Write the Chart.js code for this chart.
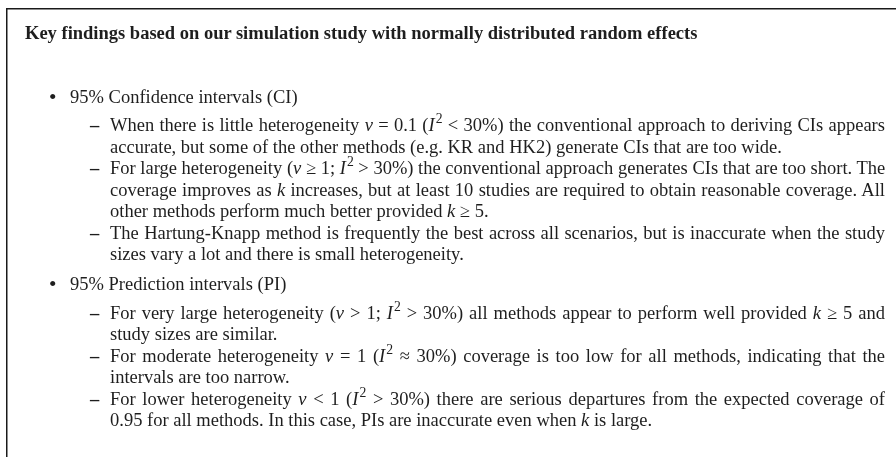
<!DOCTYPE html>
<html lang="en">
<head>
  <meta charset="UTF-8">
  <title>Key findings</title>
  <script src="https://cdn.jsdelivr.net/npm/chart.js"></script>
  <style>
    * {
      box-sizing: border-box;
      margin: 0;
      padding: 0;
    }

    body {
      width: 896px;
      height: 457px;
      overflow: hidden;
      background: #fff;
      position: relative;
      font-family: 'Liberation Serif', 'Times New Roman', serif;
      color: #1e1e1e;
    }

    .frame {
      position: absolute;
      left: 0;
      top: 0;
      width: 980px;
      height: 540px;
    }

    .panel {
      position: absolute;
      left: 25px;
      top: 0;
      width: 860px;
      font-size: 18.5px;
      line-height: 21.5px;
    }

    .title {
      margin-top: 23px;
      font-weight: bold;
      font-size: 18.5px;
    }

    .bullet {
      position: relative;
      padding-left: 45px;
    }
    .bullet::before {
      content: '\2022';
      position: absolute;
      left: 24px;
      font-size: 1.15em;
    }
    .b1 { margin-top: 42px; }
    .b2 { margin-top: 8.5px; }

    .items { margin-top: 7px; }

    .item {
      position: relative;
      padding-left: 85px;
    }
    .item::before {
      content: '\2013';
      position: absolute;
      left: 65px;
      font-weight: bold;
    }

    .line {
      white-space: nowrap;
      text-align: justify;
      text-align-last: justify;
    }
    .line.last {
      text-align: left;
      text-align-last: left;
    }

    sup {
      font-size: 0.74em;
      line-height: 0;
      vertical-align: 0.55em;
      margin-left: 1px;
    }
  </style>
</head>
<body>
  <div class="frame"><canvas id="frameChart"></canvas></div>
  <div class="panel" id="panel"></div>

  <script>
    const title = 'Key findings based on our simulation study with normally distributed random effects';

    const ciHeading = '95% Confidence intervals (CI)';
    const ciItems = [
      ['When there is little heterogeneity <i>ν</i> = 0.1 (<i>I</i><sup>2</sup> &lt; 30%) the conventional approach to deriving CIs appears',
       'accurate, but some of the other methods (e.g. KR and HK2) generate CIs that are too wide.'],
      ['For large heterogeneity (<i>ν</i> ≥ 1; <i>I</i><sup>2</sup> &gt; 30%) the conventional approach generates CIs that are too short. The',
       'coverage improves as <i>k</i> increases, but at least 10 studies are required to obtain reasonable coverage. All',
       'other methods perform much better provided <i>k</i> ≥ 5.'],
      ['The Hartung-Knapp method is frequently the best across all scenarios, but is inaccurate when the study',
       'sizes vary a lot and there is small heterogeneity.']
    ];

    const piHeading = '95% Prediction intervals (PI)';
    const piItems = [
      ['For very large heterogeneity (<i>ν</i> &gt; 1; <i>I</i><sup>2</sup> &gt; 30%) all methods appear to perform well provided <i>k</i> ≥ 5 and',
       'study sizes are similar.'],
      ['For moderate heterogeneity <i>ν</i> = 1 (<i>I</i><sup>2</sup> ≈ 30%) coverage is too low for all methods, indicating that the',
       'intervals are too narrow.'],
      ['For lower heterogeneity <i>ν</i> &lt; 1 (<i>I</i><sup>2</sup> &gt; 30%) there are serious departures from the expected coverage of',
       '0.95 for all methods. In this case, PIs are inaccurate even when <i>k</i> is large.']
    ];

    function itemsHtml(items) {
      return items.map(lines =>
        '<div class="item">' + lines.map((l, i) =>
          `<div class="line${i === lines.length - 1 ? ' last' : ''}">${l}</div>`
        ).join('') + '</div>'
      ).join('');
    }

    document.getElementById('panel').innerHTML =
      `<div class="title">${title}</div>` +
      `<div class="bullet b1">${ciHeading}</div>` +
      `<div class="items">${itemsHtml(ciItems)}</div>` +
      `<div class="bullet b2">${piHeading}</div>` +
      `<div class="items">${itemsHtml(piItems)}</div>`;

    // the box around the text: only its top and left edges fall inside the picture
    const ctx = document.getElementById('frameChart').getContext('2d');
    new Chart(ctx, {
      type: 'scatter',
      data: { datasets: [] },
      options: {
        responsive: true,
        maintainAspectRatio: false,
        animation: false,
        layout: { padding: { left: 7, top: 9, right: 0, bottom: 0 } },
        plugins: { legend: { display: false }, tooltip: { enabled: false } },
        scales: {
          x: {
            position: 'top', min: 0, max: 1,
            ticks: { display: false },
            grid: { display: false, drawTicks: false },
            border: { display: true, color: '#1a1a1a', width: 1.5 }
          },
          y: {
            position: 'left', min: 0, max: 1,
            ticks: { display: false },
            grid: { display: false, drawTicks: false },
            border: { display: true, color: '#1a1a1a', width: 1.5 }
          }
        }
      }
    });
  </script>
</body>
</html>
